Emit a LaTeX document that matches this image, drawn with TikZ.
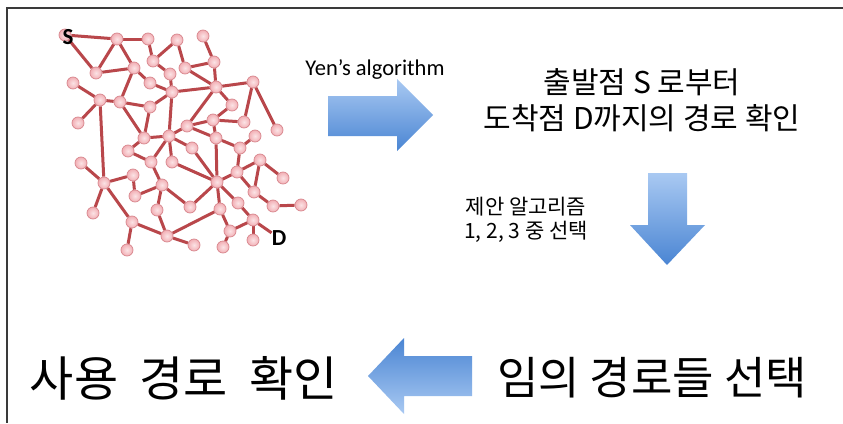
\documentclass[tikz,border=0pt]{standalone}
\usepackage{fontspec}
\setmainfont{Noto Sans CJK KR}
\newfontfamily\latinfont{Carlito}
\usepackage{xcolor}
\usepackage{tikz}
\usetikzlibrary{positioning, backgrounds}
\definecolor{grEdge}{HTML}{B9474B}
\definecolor{grNode}{HTML}{F2AFB5}
\definecolor{grNodeLight}{HTML}{FBE3E5}
\definecolor{grNodeRim}{HTML}{D8868D}
\definecolor{blkLight}{HTML}{A9C9F2}
\definecolor{blkDark}{HTML}{4A85D3}
\definecolor{frameGray}{HTML}{3A3A3A}
\tikzset{
  vtx/.style={
    circle, draw=grNodeRim, line width=0.7pt,
    inner color=grNodeLight, outer color=grNode,
    minimum size=12pt, inner sep=0pt
  },
  link/.style={grEdge, line width=3pt},
  endlabel/.style={font=\latinfont\bfseries\fontsize{23}{23}\selectfont, inner sep=0pt},
  bigtext/.style={font=\fontsize{45}{50}\selectfont, align=center},
  midtext/.style={font=\fontsize{30}{36}\selectfont, align=center},
  smalltext/.style={font=\fontsize{21}{24}\selectfont, align=center},
  yentext/.style={font=\latinfont\fontsize{22.5}{26}\selectfont},
  blockarrow/.style={draw=none},
  frameline/.style={frameGray, line width=1.2pt}
}

\begin{document}
\begin{tikzpicture}[x=1pt, y=-1pt]
  \useasboundingbox (0,0) rectangle (843,423);
  % frame
  \draw[frameline] (843,8) -- (7,8) -- (7,423);

  % network
  \foreach \n/\x/\y in {S/65/35, 1/117/39, 2/148/39, 3/177/40, 4/203/36,
      5/153/61, 6/185/68, 7/214/62, 8/96/73, 9/134/68, 10/170/74,
      11/73/83, 12/150/83, 13/172/92, 14/216/87, 15/253/82, 16/100/100,
      17/120/102, 18/150/107, 19/232/105, 20/78/123, 21/213/120,
      22/244/122, 23/187/126, 24/277/130, 25/144/138, 26/169/136,
      27/216/138, 28/255/136, 29/192/148, 30/240/148, 31/128/151,
      32/151/162, 33/172/162, 34/260/160, 35/81/163, 36/237/172,
      37/133/175, 38/217/182, 39/104/183, 40/162/185, 41/283/178,
      42/135/196, 43/254/192, 44/93/213, 45/157/210, 46/190/207,
      47/220/209, 48/238/203, 49/273/206, 50/301/205, 51/132/222,
      52/167/236, 53/230/231, 54/253/220, 55/194/245, 56/223/247,
      57/253/240, 58/127/250}
    \node[vtx] (v\n) at (\x,\y) {};
  \node[endlabel] (slabel) at (68,37) {S};
  \node[endlabel] (dlabel) at (279,238) {D};

  \begin{scope}[on background layer]
    \fill[white] (0,0) rectangle (843,423);
    \foreach \a/\b in {S/1, S/8, 8/1, 1/2, 1/9, 8/9, 2/5, 5/3, 3/6, 5/10,
        10/13, 9/12, 12/13, 9/17, 6/7, 4/7, 6/14, 7/14, 13/14, 14/15,
        15/24, 15/22, 14/19, 19/21, 21/22, 14/23, 23/21, 16/11, 16/20,
        16/17, 16/39, 17/18, 18/13, 17/25, 18/25, 13/26, 25/26, 26/23,
        31/25, 31/32, 32/26, 32/40, 26/33, 33/38, 29/38, 26/29, 21/27,
        23/27, 27/38, 27/30, 30/28, 30/36, 36/38, 36/34, 34/41, 34/43,
        36/43, 43/49, 49/50, 38/47, 38/48, 38/46, 40/46, 40/45, 40/42,
        42/37, 37/39, 39/35, 39/44, 39/51, 51/52, 51/58, 45/52, 52/55,
        52/47, 47/53, 53/56, 53/54, 48/54, 54/57}
      \draw[link] (v\a) -- (v\b);
    \draw[link] (v54) -- (dlabel);
  \end{scope}

  % block arrows
  \shade[blockarrow, top color=blkLight, bottom color=blkDark]
    (328,96) -- (397,96) -- (397,79) -- (433,115) -- (397,151)
    -- (397,136) -- (328,136) -- cycle;
  \shade[blockarrow, top color=blkLight, bottom color=blkDark]
    (648,173) -- (687,173) -- (687,225) -- (705,225) -- (667,265)
    -- (630,225) -- (648,225) -- cycle;
  \shade[blockarrow, top color=blkDark, bottom color=blkLight]
    (472,356) -- (404,356) -- (404,338) -- (368,376) -- (404,414)
    -- (404,396) -- (472,396) -- cycle;

  % texts
  \node[yentext] (yen) at (375,70) {Yen’s algorithm};
  \node[midtext] (reach) at (642,100) {출발점 S 로부터\\도착점 D까지의 경로 확인};
  \node[smalltext] (pick) at (526,220) {제안 알고리즘\\1, 2, 3 중 선택};
  \node[bigtext] (chosen) at (652,378) {임의 경로들 선택};
  \node[bigtext, font=\fontsize{48}{52}\selectfont] (used) at (184,378)
    {사용\hspace{0.45em}경로\hspace{0.45em}확인};
\end{tikzpicture}
\end{document}
